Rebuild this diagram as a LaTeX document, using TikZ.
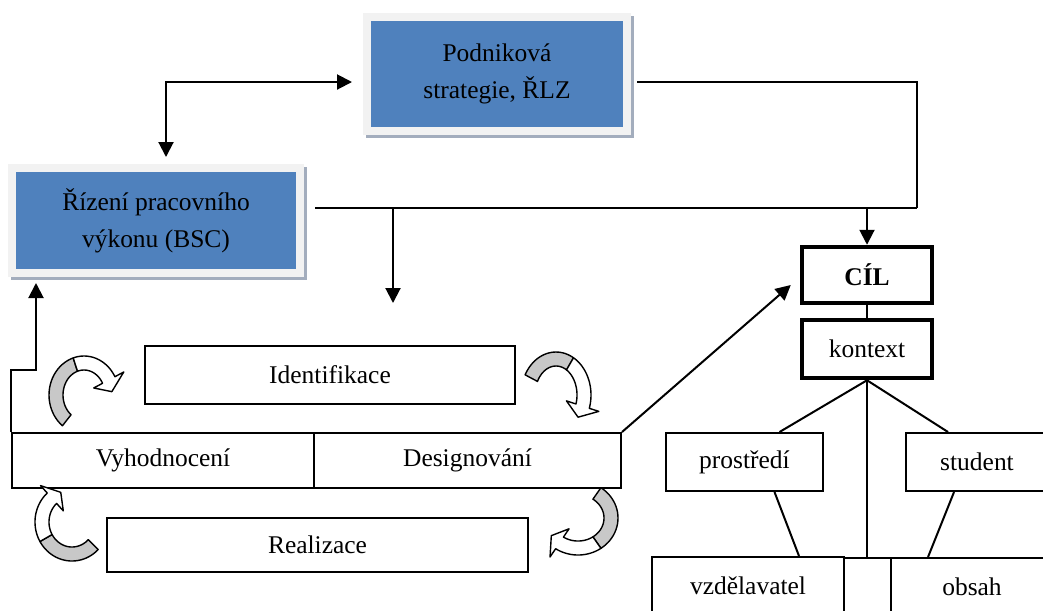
\documentclass[tikz,border=0pt]{standalone}
\usepackage{fontspec}
\setmainfont{Liberation Serif}
\usetikzlibrary{arrows.meta, calc, backgrounds}

\definecolor{boxblue}{HTML}{4F81BD}
\definecolor{framegray}{HTML}{F2F2F2}
\definecolor{shadowgray}{HTML}{A3ADBD}
\definecolor{ribbongray}{HTML}{C8C8C8}

\newcommand{\pxu}{0.02cm}
\newcommand{\boxfont}{\fontsize{14.5}{21}\selectfont}
\newcommand{\rw}{7}
\newcommand{\rh}{10}

% curved ribbon arrow: cx, cy, rx, ry, start, mid, end, tip angle
\newcommand{\ribbonarrow}[8]{%
	\filldraw[ribbon back] plot[domain=#5:#6] ({#1+(#3+\rw)*cos(\x)},{#2+(#4+\rw)*sin(\x)})
		-- plot[domain=#6:#5] ({#1+(#3-\rw)*cos(\x)},{#2+(#4-\rw)*sin(\x)}) -- cycle;
	\filldraw[ribbon front] plot[domain=#6:#7] ({#1+(#3+\rw)*cos(\x)},{#2+(#4+\rw)*sin(\x)})
		-- ({#1+(#3+\rw+\rh)*cos(#7)},{#2+(#4+\rw+\rh)*sin(#7)})
		-- ({#1+#3*cos(#8)},{#2+#4*sin(#8)})
		-- ({#1+(#3-\rw-\rh)*cos(#7)},{#2+(#4-\rw-\rh)*sin(#7)})
		-- plot[domain=#7:#6] ({#1+(#3-\rw)*cos(\x)},{#2+(#4-\rw)*sin(\x)}) -- cycle;
}

\begin{document}
\begin{tikzpicture}[
		x=0.02cm, y=-0.02cm,
		blue box/.style={fill=boxblue, draw=framegray, line width=8*\pxu, inner sep=0pt, align=center, font=\boxfont},
		plain box/.style={draw=black, fill=white, line width=2*\pxu, inner sep=0pt, align=center, font=\boxfont},
		goal box/.style={plain box, line width=4.5*\pxu},
		conn/.style={line width=2*\pxu},
		arr/.style={conn, -{Triangle[length=15*\pxu, width=15*\pxu]}},
		both arr/.style={conn, {Triangle[length=15*\pxu, width=15*\pxu]}-{Triangle[length=15*\pxu, width=15*\pxu]}},
		ribbon back/.style={fill=ribbongray, draw=black, line width=1.4*\pxu, line join=round},
		ribbon front/.style={fill=white, draw=black, line width=1.4*\pxu, line join=round},
		samples=25
		]
		\useasboundingbox (0,0) rectangle (1043,610);
		\clip (0,0) rectangle (1043,610);
		
		% =========================================================
		% Top: strategy and performance boxes
		% =========================================================
		\node[blue box, minimum width=260*\pxu, minimum height=114*\pxu] (strategy) at (497,74) {Podniková\\strategie, ŘLZ};
		\node[blue box, minimum width=288*\pxu, minimum height=105*\pxu] (perf) at (156,220.5) {Řízení pracovního\\výkonu (BSC)};
		
		% Shadows
		\begin{scope}[on background layer]
			\fill[shadowgray] ($(strategy.south west)+(3,3)$) rectangle ($(strategy.north east)+(3,3)$);
			\fill[shadowgray] ($(perf.south west)+(3,3)$) rectangle ($(perf.north east)+(3,3)$);
		\end{scope}
		
		% =========================================================
		% Cycle: four boxes and the curved arrows
		% =========================================================
		\node[plain box, minimum width=370*\pxu, minimum height=58*\pxu] (ident) at (330,375) {Identifikace};
		\node[plain box, minimum width=302*\pxu, minimum height=55*\pxu] (eval) at (163,460.5) {Vyhodnocení};
		\node[plain box, minimum width=307*\pxu, minimum height=55*\pxu] (design) at (467.5,460.5) {Designování};
		\node[plain box, minimum width=421*\pxu, minimum height=54*\pxu] (realiz) at (317.5,545) {Realizace};
		
		\ribbonarrow{84}{395}{28}{32}{128}{252}{332}{354}
		\ribbonarrow{556}{395}{28}{36}{208}{300}{378}{398}
		\ribbonarrow{72}{522}{30}{32}{45}{150}{228}{248}
		\ribbonarrow{578}{518}{33}{30}{-55}{55}{124}{144}
		
		% =========================================================
		% Right: goal, context and its parts
		% =========================================================
		\node[goal box, minimum width=130*\pxu, minimum height=56*\pxu] (goal) at (867,275) {\textbf{CÍL}};
		\node[goal box, minimum width=130*\pxu, minimum height=58*\pxu] (context) at (867,349) {kontext};
		\node[plain box, minimum width=157*\pxu, minimum height=58*\pxu] (env) at (744.5,462) {prostředí};
		\node[plain box, minimum width=142*\pxu, minimum height=58*\pxu] (student) at (977,462) {student};
		\node[plain box, minimum width=192*\pxu, minimum height=58*\pxu] (teacher) at (748,586) {vzdělavatel};
		\node[plain box, minimum width=47*\pxu, minimum height=58*\pxu] (gap) at (867.5,587) {};
		\node[plain box, minimum width=162*\pxu, minimum height=58*\pxu] (content) at (972,587) {obsah};
		
		% =========================================================
		% Connectors
		% =========================================================
		\coordinate (busR) at (917,208);
		\coordinate (dropL) at (393,303);
		\coordinate (stepL) at (36,370);
		
		\draw[both arr] ($(perf.north)+(10,-7)$) |- ($(strategy.west)+(-11,8)$);
		\draw[conn] ($(strategy.east)+(6,8)$) -| (busR);
		\draw[conn] ($(perf.east)+(11,-12.5)$) -- (busR);
		\draw[arr] (busR -| goal.north) -- (goal.north);
		\draw[arr] (dropL |- busR) -- (dropL);
		\draw[arr] (design.north east) -- ($(goal.west)+(-9,10)$);
		\draw[arr, shorten >=6*\pxu] (eval.north west) |- (stepL) -- (stepL |- perf.south);
		
		\draw[conn] (goal.south) -- (context.north);
		\draw[conn] (context.south) -- ($(env.north)+(35,0)$);
		\draw[conn] (context.south) -- ($(student.north)+(-29,0)$);
		\draw[conn] (context.south) -- (context.south |- gap.north);
		\draw[conn] ($(env.south)+(30,0)$) -- ($(teacher.north)+(51,0)$);
		\draw[conn] ($(student.south)+(-23,0)$) -- ($(content.north)+(-44,0)$);
		
	\end{tikzpicture}
\end{document}
